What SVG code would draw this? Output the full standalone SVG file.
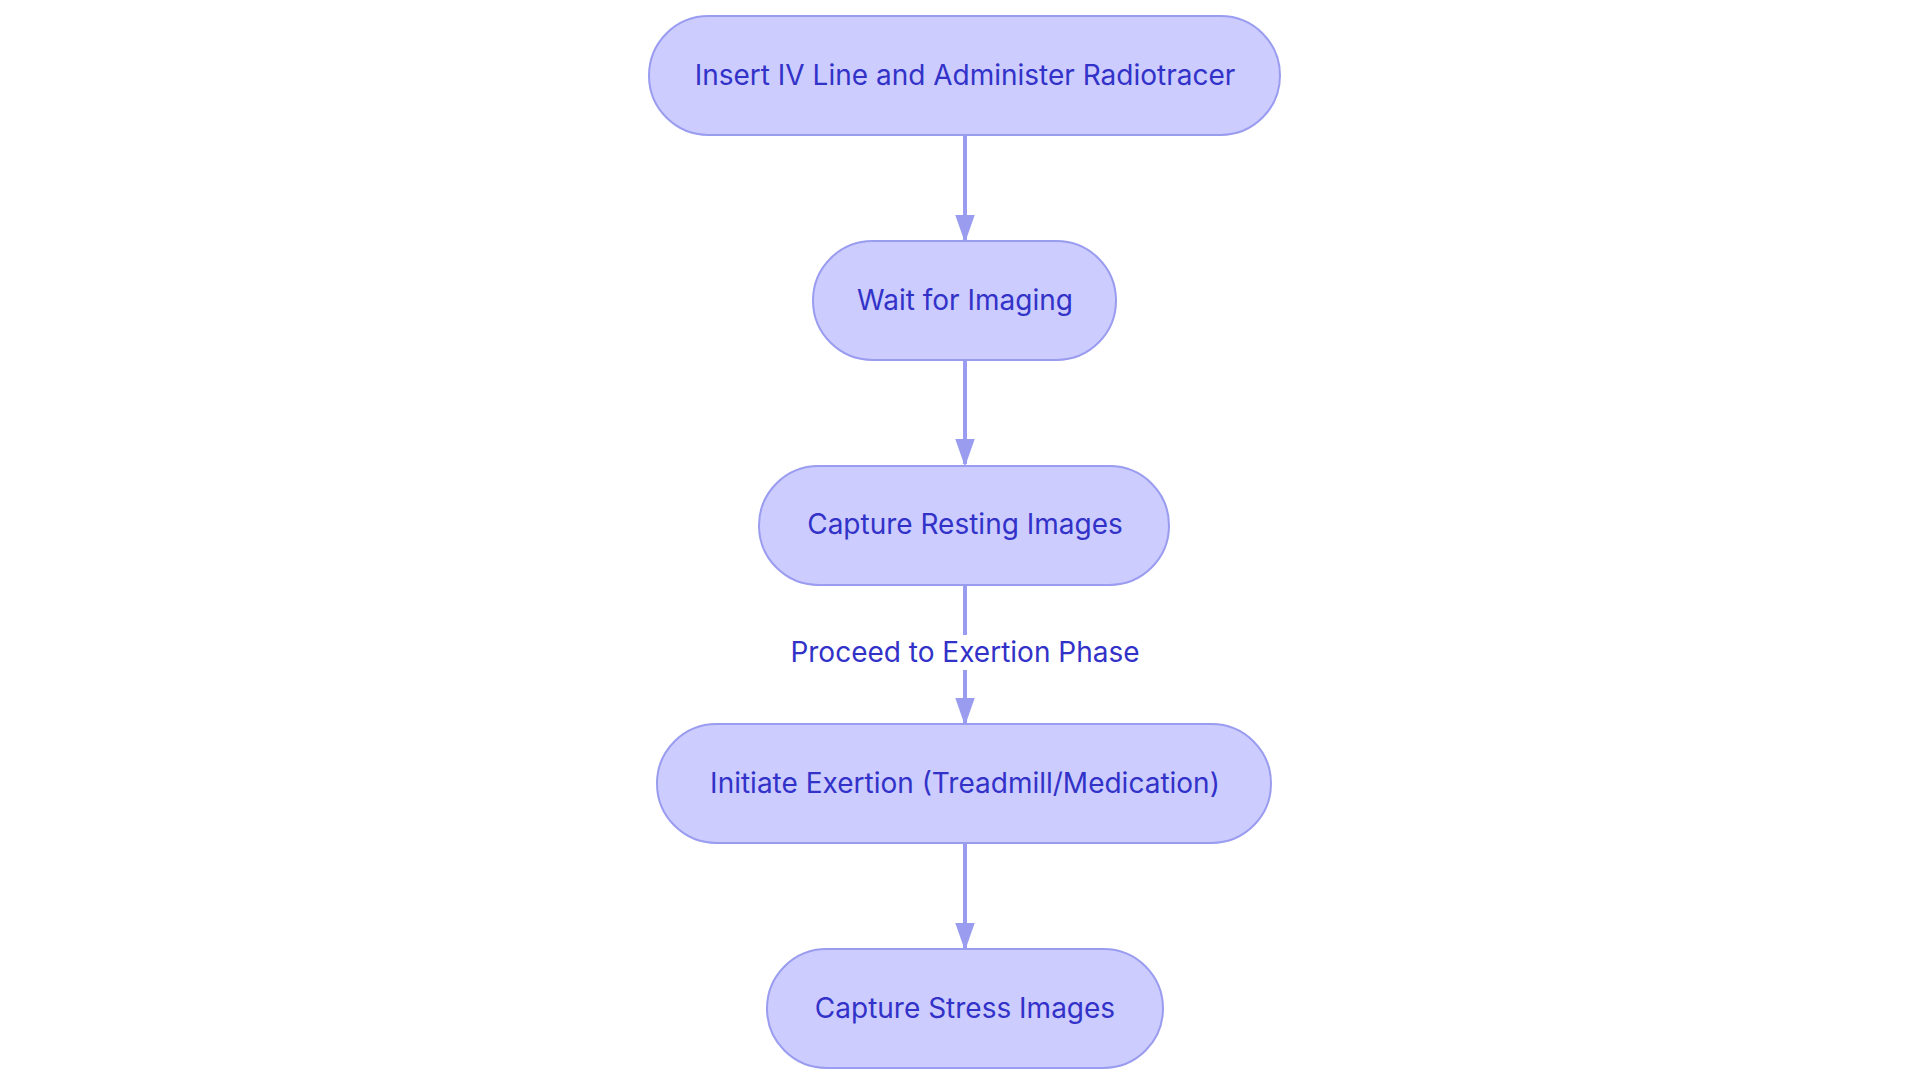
<svg xmlns="http://www.w3.org/2000/svg" width="1920" height="1083" viewBox="0 0 1920 1083">
<style>
.n{fill:#ccccff;stroke:#9a9cf0;stroke-width:2}
.t{font-family:Inter,"Noto Sans",sans-serif;font-size:28px;fill:#3232c8;text-anchor:middle;dominant-baseline:central}
.e{stroke:#9a9cf0;stroke-width:4;fill:none;marker-end:url(#a)}
</style>
<defs><marker id="a" viewBox="0 0 10 10" refX="10" refY="5" markerWidth="7" markerHeight="7" markerUnits="userSpaceOnUse" orient="auto"><path d="M0,0L10,5L0,10z" fill="#9a9cf0"/></marker>
<marker id="m" viewBox="0 0 10 10" refX="9" refY="5" markerWidth="28" markerHeight="28" markerUnits="userSpaceOnUse" orient="auto"><path d="M0,1.5L10,5L0,8.5z" fill="#9a9cf0"/></marker></defs>
<rect width="1920" height="1083" fill="#fff"/>
<g id="edges" fill="none" stroke="#9a9cf0" stroke-width="4">
<line x1="965" y1="136" x2="965" y2="240" marker-end="url(#m)"/>
<line x1="965" y1="360" x2="965" y2="464" marker-end="url(#m)"/>
<line x1="965" y1="586" x2="965" y2="635"/>
<line x1="965" y1="670" x2="965" y2="723" marker-end="url(#m)"/>
<line x1="965" y1="844" x2="965" y2="948" marker-end="url(#m)"/>
</g>
<text class="t" x="965" y="652">Proceed to Exertion Phase</text>
<g id="n1"><rect class="n" x="649" y="16" width="631" height="119" rx="59.5"/><text class="t" x="965" y="75">Insert IV Line and Administer Radiotracer</text></g>
<g id="n2"><rect class="n" x="813" y="241" width="303" height="119" rx="59.5"/><text class="t" x="965" y="300">Wait for Imaging</text></g>
<g id="n3"><rect class="n" x="759" y="466" width="410" height="119" rx="59.5"/><text class="t" x="965" y="524">Capture Resting Images</text></g>
<g id="n4"><rect class="n" x="657" y="724" width="614" height="119" rx="59.5"/><text class="t" x="965" y="783">Initiate Exertion (Treadmill/Medication)</text></g>
<g id="n5"><rect class="n" x="767" y="949" width="396" height="119" rx="59.5"/><text class="t" x="965" y="1008">Capture Stress Images</text></g>
</svg>
